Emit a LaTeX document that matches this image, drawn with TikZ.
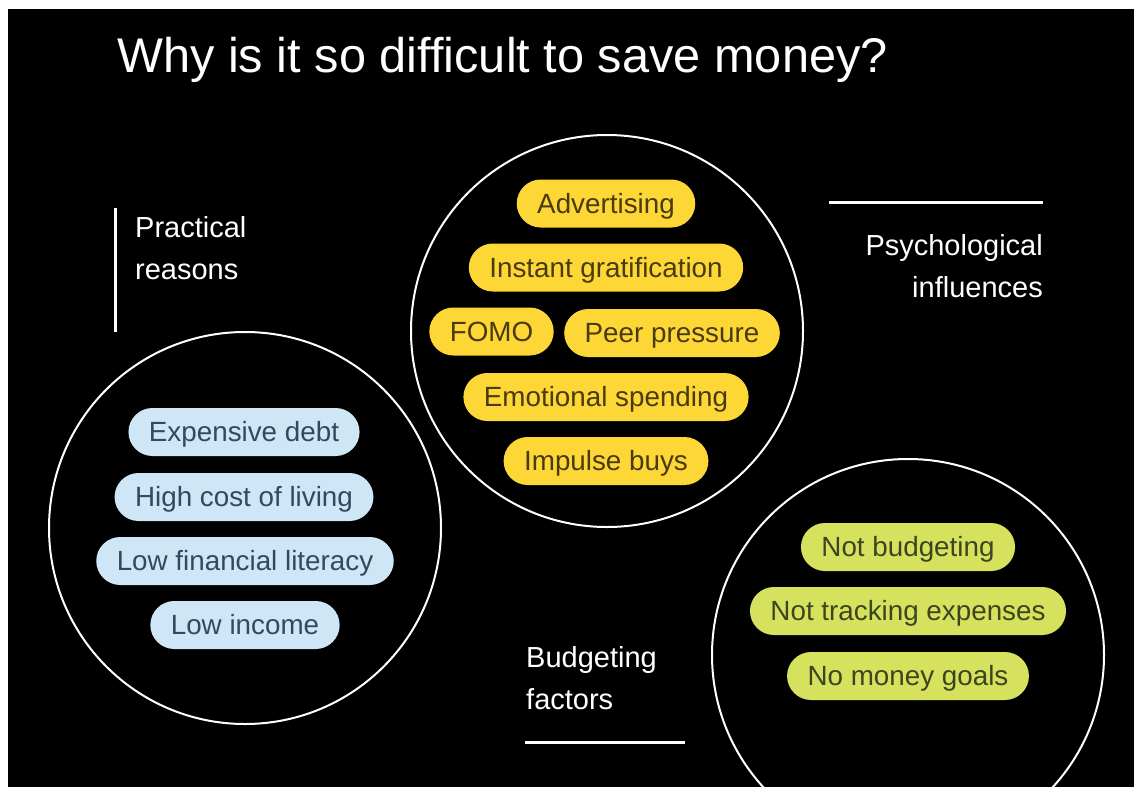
\documentclass[tikz,border=0pt]{standalone}
\usepackage{fontspec}
\setmainfont{Liberation Sans}
\definecolor{pillblue}{HTML}{CFE6F6}
\definecolor{txtblue}{HTML}{34495E}
\definecolor{pillyellow}{HTML}{FDD736}
\definecolor{txtyellow}{HTML}{4A3A10}
\definecolor{pillgreen}{HTML}{D6E25E}
\definecolor{txtgreen}{HTML}{3B4620}
\begin{document}
\begin{tikzpicture}[x=1pt,y=-1pt,
  ring/.style={circle,draw=white,line width=2pt,inner sep=0pt,minimum size=392pt},
  pill/.style={rounded corners=24pt,minimum height=48pt,inner xsep=20.5pt,inner ysep=0pt,
    text height=19.5pt,text depth=0pt,font=\fontsize{27.8}{30}\selectfont},
  bluepill/.style={pill,fill=pillblue,text=txtblue},
  yellowpill/.style={pill,fill=pillyellow,text=txtyellow},
  greenpill/.style={pill,fill=pillgreen,text=txtgreen},
  lab/.style={text=white,inner sep=0pt,font=\fontsize{29}{34}\selectfont},
  rule/.style={draw=white,line width=3pt}]
\useasboundingbox (0,0) rectangle (1134,787);
\fill[white] (0,0) rectangle (1134,787);
\fill[black] (8,9) rectangle (1134,787);

\node[text=white,inner sep=0pt,anchor=base west,font=\fontsize{48.7}{56}\selectfont] (title) at (117,72) {Why is it so difficult to save money?};

% circles
\node[ring] (cl) at (245,528) {};
\node[ring] (cm) at (607,331) {};
\node[ring] (cr) at (908,655) {};

% labels and rules
\coordinate (v1) at (115,208); \coordinate (v2) at (115,332);
\draw[rule] (v1) -- (v2);
\node[lab,anchor=base west] (pr1) at (135,237) {Practical};
\node[lab,anchor=base west] (pr2) at (135,279) {reasons};

\coordinate (h1) at (829,202); \coordinate (h2) at (1043,202);
\draw[rule] (h1) -- (h2);
\node[lab,anchor=base east] (ps1) at (1043,255) {Psychological};
\node[lab,anchor=base east] (ps2) at (1043,297) {influences};

\node[lab,anchor=base west] (bf1) at (526,667) {Budgeting};
\node[lab,anchor=base west] (bf2) at (526,709) {factors};
\coordinate (b1) at (525,742); \coordinate (b2) at (685,742);
\draw[rule] (b1) -- (b2);

% blue pills
\node[bluepill] (p1) at (244,432) {Expensive debt};
\node[bluepill] (p2) at (244,497) {High cost of living};
\node[bluepill] (p3) at (245,561) {Low financial literacy};
\node[bluepill] (p4) at (245,625) {Low income};

% yellow pills
\node[yellowpill] (y1) at (606,203.5) {Advertising};
\node[yellowpill] (y2) at (606,267.5) {Instant gratification};
\node[yellowpill] (y3) at (491.5,331.5) {FOMO};
\node[yellowpill] (y4) at (672,333) {Peer pressure};
\node[yellowpill] (y5) at (606,397) {Emotional spending};
\node[yellowpill] (y6) at (606,461) {Impulse buys};

% green pills
\node[greenpill] (g1) at (908,547) {Not budgeting};
\node[greenpill] (g2) at (908,611) {Not tracking expenses};
\node[greenpill] (g3) at (908,676) {No money goals};
\end{tikzpicture}
\end{document}
